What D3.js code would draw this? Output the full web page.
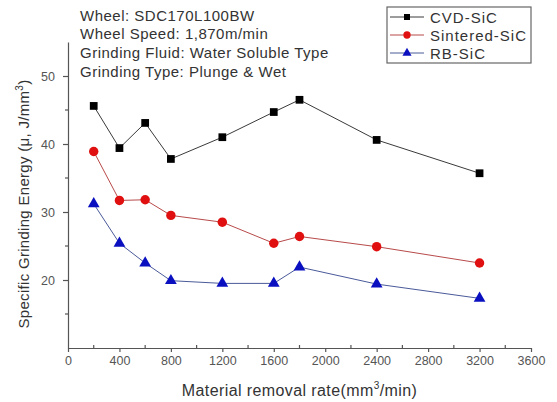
<!DOCTYPE html>
<html>
<head>
<meta charset="utf-8">
<script src="https://cdn.jsdelivr.net/npm/d3@7"></script>
<style>
  body { margin: 0; background: #fff; }
  svg { font-family: "Liberation Sans", Arial, sans-serif; }
</style>
</head>
<body>
<svg id="chart" width="557" height="402"></svg>
<script>
const RATES = [200, 400, 600, 800, 1200, 1600, 1800, 2400, 3200];
const CVD = [45.6, 39.4, 43.1, 37.8, 41.0, 44.7, 46.5, 40.6, 35.7];
const SINTERED = [38.9, 31.7, 31.8, 29.5, 28.5, 25.4, 26.4, 24.9, 22.5];
const RB = [31.2, 25.4, 22.5, 19.9, 19.5, 19.5, 21.9, 19.4, 17.3];
const X_TICKS = [0, 400, 800, 1200, 1600, 2000, 2400, 2800, 3200, 3600];
const Y_TICKS = [20, 30, 40, 50];
const NOTES = [
  'Wheel: SDC170L100BW',
  'Wheel Speed: 1,870m/min',
  'Grinding Fluid: Water Soluble Type',
  'Grinding Type: Plunge & Wet',
];

const SERIES = [
  { name: 'CVD-SiC', values: CVD, line: '#3a3a3a', fill: '#000', shape: d3.symbolSquare, size: 60 },
  { name: 'Sintered-SiC', values: SINTERED, line: '#b84a4a', fill: '#e01010', shape: d3.symbolCircle, size: 70 },
  { name: 'RB-SiC', values: RB, line: '#4a5a9a', fill: '#0a10c0', shape: d3.symbolTriangle, size: 60 },
];

const SVG = d3.select('#chart');
const LEFT = 68, RIGHT = 531, TOP = 42, BOTTOM = 348;

const X = d3.scaleLinear().domain([0, 3600]).range([LEFT, RIGHT]);
const Y = d3.scaleLinear().domain([10, 55]).range([BOTTOM, TOP]);

// axes
const xAxis = SVG.append('g').attr('transform', `translate(0,${BOTTOM})`);
xAxis.call(d3.axisBottom(X).tickValues(X_TICKS).tickFormat(d3.format('d'))
  .tickSize(4).tickSizeOuter(0).tickPadding(4));
xAxis.selectAll('.minor')
  .data(d3.range(200, 3600, 400))
  .join('line')
  .attr('x1', (d) => X(d)).attr('x2', (d) => X(d))
  .attr('y1', 0).attr('y2', -3);

const yAxis = SVG.append('g').attr('transform', `translate(${LEFT},0)`);
yAxis.call(d3.axisLeft(Y).tickValues(Y_TICKS).tickSize(5).tickSizeOuter(0).tickPadding(8));
yAxis.selectAll('.minor')
  .data([15, 25, 35, 45])
  .join('line')
  .attr('x1', 0).attr('x2', -3)
  .attr('y1', (d) => Y(d)).attr('y2', (d) => Y(d));

SVG.selectAll('.domain, .tick line, line').attr('stroke', '#555').attr('stroke-width', 1.2);
SVG.selectAll('.tick text').attr('font-size', 12.5).attr('fill', '#555')
  .attr('font-family', '"Liberation Sans", Arial, sans-serif');

// axis titles
SVG.append('text')
  .attr('x', (LEFT + RIGHT) / 2).attr('y', 396)
  .attr('text-anchor', 'middle').attr('font-size', 16).attr('fill', '#333')
  .attr('letter-spacing', 0.4)
  .html('Material removal rate(mm<tspan dy="-7" font-size="10">3</tspan><tspan dy="7">/min)</tspan>');

SVG.append('text')
  .attr('transform', 'translate(29,204) rotate(-90)')
  .attr('text-anchor', 'middle').attr('font-size', 15).attr('fill', '#333')
  .attr('letter-spacing', 0.3)
  .html('Specific Grinding Energy (μ, J/mm<tspan dy="-6" font-size="10">3</tspan><tspan dy="6">)</tspan>');

// series
const line = d3.line().x((d, i) => X(RATES[i])).y((d) => Y(d));
SERIES.forEach((s) => {
  const g = SVG.append('g');
  g.append('path')
    .attr('d', line(s.values))
    .attr('fill', 'none').attr('stroke', s.line).attr('stroke-width', 1);
  g.selectAll('path.pt')
    .data(s.values)
    .join('path')
    .attr('class', 'pt')
    .attr('transform', (d, i) => `translate(${X(RATES[i])},${Y(d)})`)
    .attr('d', d3.symbol().type(s.shape).size(s.size))
    .attr('fill', s.fill);
});

// notes
SVG.append('g').selectAll('text')
  .data(NOTES)
  .join('text')
  .attr('x', 80).attr('y', (d, i) => 20.5 + i * 18.7)
  .attr('font-size', 15).attr('fill', '#333').attr('letter-spacing', 0.5)
  .text((d) => d);

// legend
const LEG = SVG.append('g');
LEG.append('rect')
  .attr('x', 387).attr('y', 7).attr('width', 144).attr('height', 56)
  .attr('fill', '#fff').attr('stroke', '#666').attr('stroke-width', 1.2);
SERIES.forEach((s, i) => {
  const cy = 17 + i * 18;
  LEG.append('line')
    .attr('x1', 390).attr('x2', 424).attr('y1', cy).attr('y2', cy)
    .attr('stroke', s.line).attr('stroke-width', 1);
  LEG.append('path')
    .attr('transform', `translate(407,${cy})`)
    .attr('d', d3.symbol().type(s.shape).size(s.size * 0.6))
    .attr('fill', s.fill);
  LEG.append('text')
    .attr('x', 430).attr('y', cy + 5.5)
    .attr('font-size', 15).attr('fill', '#333').attr('letter-spacing', 1)
    .text(s.name);
});
</script>
</body>
</html>
